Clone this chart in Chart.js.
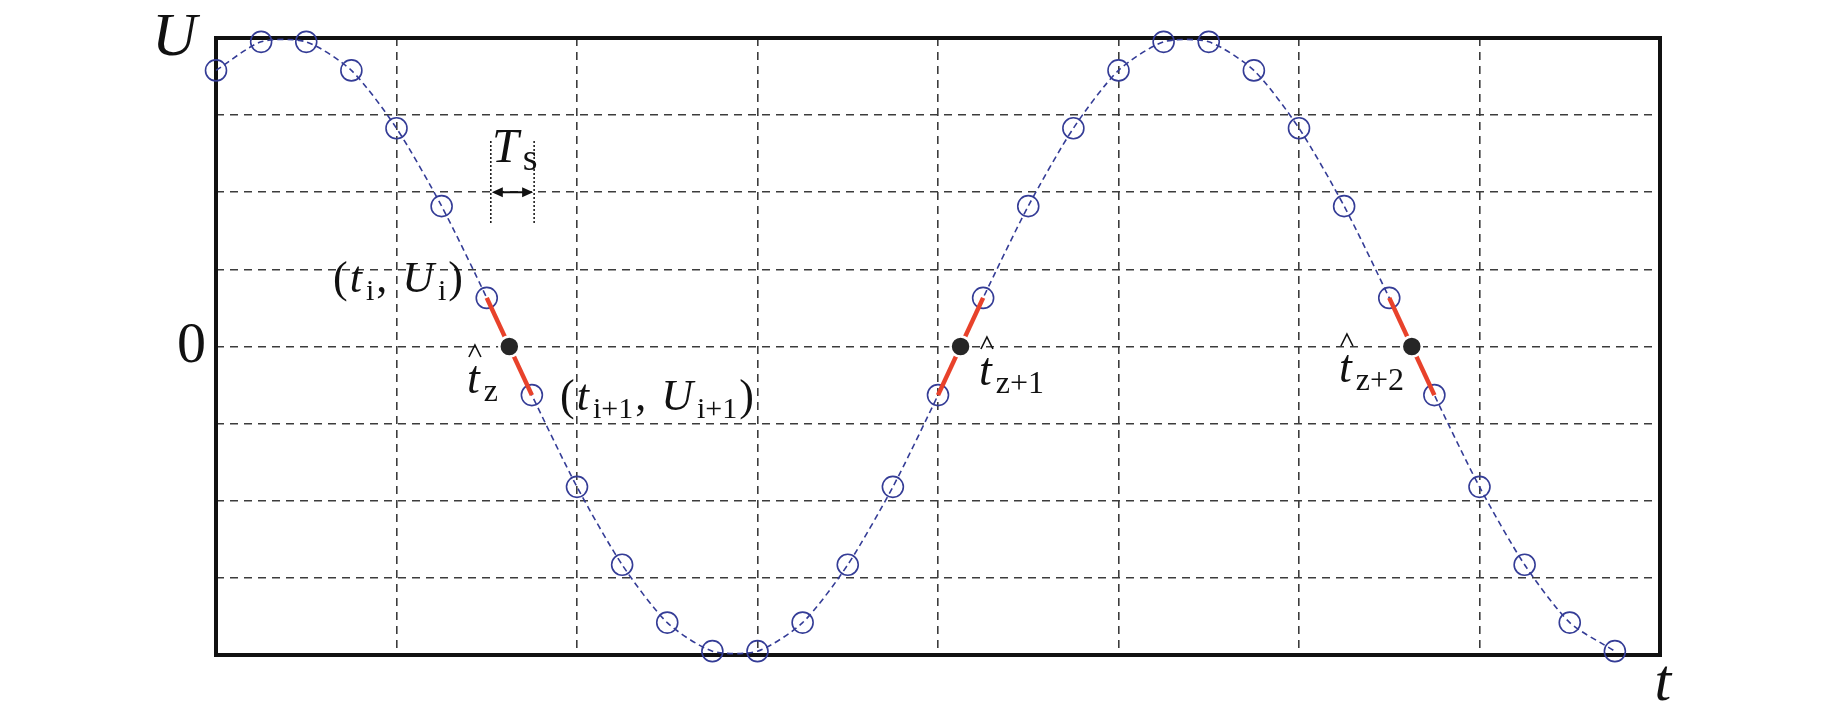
<!DOCTYPE html>
<html>
<head>
<meta charset="utf-8">
<script src="https://cdn.jsdelivr.net/npm/chart.js@4.4.1/dist/chart.umd.min.js"></script>
<style>
  body { margin: 0; background: #fff; }
  #wrap { width: 1843px; height: 709px; }
</style>
</head>
<body>
<div id="wrap"><canvas id="chart"></canvas></div>
<script>
const sampleT = [0, 1, 2, 3, 4, 5, 6, 7, 8, 9, 10, 11, 12, 13, 14, 15,
                 16, 17, 18, 19, 20, 21, 22, 23, 24, 25, 26, 27, 28, 29, 30, 31];
const sampleU = [3.58, 3.95, 3.95, 3.58, 2.83, 1.82, 0.63, -0.63, -1.82, -2.83, -3.58, -3.95, -3.95, -3.58, -2.83, -1.82,
                 -0.63, 0.63, 1.82, 2.83, 3.58, 3.95, 3.95, 3.58, 2.83, 1.82, 0.63, -0.63, -1.82, -2.83, -3.58, -3.95];

// estimated zero crossings and the sample pairs around them
const crossT = [6.5, 16.5, 26.5];
const crossU = [0, 0, 0];
const crossPairs = [[6, 7], [16, 17], [26, 27]];

const xMin = 0, xMax = 32, xStep = 4;
const yMin = -4, yMax = 4, yStep = 1;

const blue = '#343c96';
const red = '#e8422b';

const serif = '"Liberation Serif", "Times New Roman", serif';

function pts(xs, ys) {
    return xs.map((x, i) => ({ x: x, y: ys[i] }));
}

const segmentSets = crossPairs.map(p => ({
    type: 'line',
    data: [{ x: sampleT[p[0]], y: sampleU[p[0]] }, { x: sampleT[p[1]], y: sampleU[p[1]] }],
    borderColor: red,
    borderWidth: 4.5,
    pointRadius: 0,
    tension: 0,
    clip: false
}));

// text pieces: [text, italic, subscript]
function drawRun(ctx, x, y, parts, main, sub, hatFirst) {
    parts.forEach((p, k) => {
        const size = p[2] ? sub : main;
        ctx.font = (p[1] ? 'italic ' : '') + size + 'px ' + serif;
        const yy = p[2] ? y + 8 : y;
        ctx.fillText(p[0], x, yy);
        const w = ctx.measureText(p[0]).width;
        if (hatFirst && k === 0) {
            const cx = x + w * 0.62;
            ctx.save();
            ctx.lineWidth = 1.6;
            ctx.strokeStyle = '#111';
            ctx.beginPath();
            ctx.moveTo(cx - 6, y - 36);
            ctx.lineTo(cx, y - 48);
            ctx.lineTo(cx + 6, y - 36);
            ctx.stroke();
            ctx.restore();
        }
        x += w + (p[1] ? 4 : 2);
    });
}

const annotations = {
    id: 'annotations',
    beforeDatasetsDraw(chart) {
        const { ctx, chartArea: a } = chart;
        ctx.save();
        ctx.lineWidth = 4;
        ctx.strokeStyle = '#111';
        ctx.strokeRect(a.left, a.top, a.right - a.left, a.bottom - a.top);
        ctx.restore();
    },
    afterDatasetsDraw(chart) {
        const { ctx } = chart;
        const xs = chart.scales.x, ys = chart.scales.y;
        const X = v => xs.getPixelForValue(v);
        const Y = v => ys.getPixelForValue(v);
        ctx.save();
        ctx.fillStyle = '#111';
        ctx.textBaseline = 'alphabetic';
        ctx.textAlign = 'left';

        // axis names
        ctx.font = 'italic 62px ' + serif;
        ctx.fillText('U', 152, 55);
        ctx.font = 'italic 60px ' + serif;
        ctx.fillText('t', X(31.88), 700);

        // Ts marker
        const x1 = X(6.09), x2 = X(7.05);
        ctx.save();
        ctx.strokeStyle = '#111';
        ctx.lineWidth = 1.5;
        ctx.setLineDash([2, 2]);
        ctx.beginPath();
        ctx.moveTo(x1, 141); ctx.lineTo(x1, 224);
        ctx.moveTo(x2, 141); ctx.lineTo(x2, 224);
        ctx.stroke();
        ctx.setLineDash([]);
        const ya = Y(2);
        ctx.lineWidth = 2;
        ctx.beginPath();
        ctx.moveTo(x1 + 4, ya); ctx.lineTo(x2 - 4, ya);
        ctx.stroke();
        ctx.beginPath();
        ctx.moveTo(x1 + 1, ya); ctx.lineTo(x1 + 12, ya - 5); ctx.lineTo(x1 + 12, ya + 5); ctx.closePath();
        ctx.moveTo(x2 - 1, ya); ctx.lineTo(x2 - 12, ya - 5); ctx.lineTo(x2 - 12, ya + 5); ctx.closePath();
        ctx.fill();
        ctx.restore();
        drawRun(ctx, 492, 162, [['T', true, false], ['s', false, true]], 48, 38, false);

        // sample labels
        drawRun(ctx, 333, 292, [['(', false, false], ['t', true, false], ['i', false, true], [',', false, false],
            [' ', false, false], ['U', true, false], ['i', false, true], [')', false, false]], 44, 30, false);
        drawRun(ctx, 560, 410, [['(', false, false], ['t', true, false], ['i+1', false, true], [',', false, false],
            [' ', false, false], ['U', true, false], ['i+1', false, true], [')', false, false]], 44, 30, false);

        // crossing labels
        drawRun(ctx, 467, 393, [['t', true, false], ['z', false, true]], 46, 32, true);
        drawRun(ctx, 979, 385, [['t', true, false], ['z+1', false, true]], 46, 32, true);
        drawRun(ctx, 1339, 382, [['t', true, false], ['z+2', false, true]], 46, 32, true);
        ctx.restore();
    }
};

new Chart(document.getElementById('chart'), {
    type: 'scatter',
    data: {
        datasets: [
            {
                data: pts(crossT, crossU),
                pointRadius: 10,
                pointBackgroundColor: '#262626',
                pointBorderColor: '#fff',
                pointBorderWidth: 2.5,
                showLine: false,
                clip: false
            },
            ...segmentSets,
            {
                type: 'line',
                data: pts(sampleT, sampleU),
                borderColor: blue,
                borderWidth: 1.6,
                borderDash: [6, 4],
                tension: 0.25,
                pointRadius: 10.5,
                pointStyle: 'circle',
                pointBorderColor: blue,
                pointBorderWidth: 1.6,
                pointBackgroundColor: 'rgba(0,0,0,0)',
                clip: false
            }
        ]
    },
    options: {
        responsive: true,
        maintainAspectRatio: false,
        animation: false,
        layout: { padding: { left: 0, right: 183, top: 38, bottom: 54 } },
        plugins: { legend: { display: false }, tooltip: { enabled: false } },
        scales: {
            x: {
                type: 'linear',
                min: xMin, max: xMax,
                ticks: { display: false, stepSize: xStep },
                grid: { color: '#3c3c3c', lineWidth: 1.6, drawTicks: false },
                border: { display: false, dash: [8, 6] },
                afterFit: s => { s.height = 0; s.paddingLeft = 0; s.paddingRight = 0; }
            },
            y: {
                type: 'linear',
                min: yMin, max: yMax,
                ticks: {
                    stepSize: yStep,
                    padding: 10,
                    color: '#111',
                    font: { family: serif, size: 58 },
                    callback: v => (v === 0 ? '0' : '')
                },
                grid: { color: '#3c3c3c', lineWidth: 1.6, drawTicks: false },
                border: { display: false, dash: [8, 6] },
                afterFit: s => { s.width = 216; s.paddingTop = 0; s.paddingBottom = 0; }
            }
        }
    },
    plugins: [annotations]
});
</script>
</body>
</html>
